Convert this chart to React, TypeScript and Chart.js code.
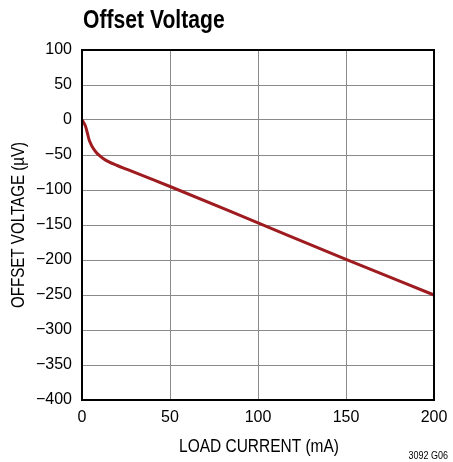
import React, { useEffect, useRef } from "react";
import { Chart, registerables } from "chart.js";

Chart.register(...registerables);

const loadCurrent = [0, 1, 2, 3, 4, 5, 6, 8, 10, 12, 15, 20, 26, 36, 50, 100, 150, 200];
const offsetVoltage = [0, -4, -9, -18, -28, -34, -39, -46, -51, -55, -59.5, -65, -71, -81, -95, -147, -199, -250];
const xTicks = [0, 50, 100, 150, 200];
const yTicks = [100, 50, 0, -50, -100, -150, -200, -250, -300, -350, -400];
const titleText = "Offset Voltage";
const noteText = "3092 G06";
const xTitle = "LOAD CURRENT (mA)";
const yTitle = "OFFSET VOLTAGE (µV)";

const tickFont = { family: "'Liberation Sans', Arial, sans-serif", size: 16 };

const fmt = (v: number) => (v < 0 ? "\u2212" + Math.abs(v) : String(v));

function condensedText(ctx: any, text: string, x: number, y: number, font: string, sx: number, align: string, rot = 0) {
  ctx.save();
  ctx.translate(x, y);
  if (rot) ctx.rotate(rot);
  ctx.scale(sx, 1);
  ctx.font = font;
  ctx.textAlign = align;
  ctx.textBaseline = "alphabetic";
  ctx.fillStyle = "#000";
  ctx.fillText(text, 0, 0);
  ctx.restore();
}

const decorPlugin = {
  id: "decor",
  afterDatasetsDraw(chart: any) {
    const { ctx, chartArea } = chart;
    ctx.save();
    ctx.strokeStyle = "#000";
    ctx.lineWidth = 2;
    ctx.strokeRect(chartArea.left, chartArea.top, chartArea.right - chartArea.left, chartArea.bottom - chartArea.top);
    ctx.restore();
    const fam = "'Liberation Sans', Arial, sans-serif";
    condensedText(ctx, titleText, chartArea.left + 1, 28, "bold 25px " + fam, 0.845, "left");
    condensedText(ctx, xTitle, (chartArea.left + chartArea.right) / 2 + 1, 452, "18px " + fam, 0.86, "center");
    condensedText(ctx, yTitle, 24, (chartArea.top + chartArea.bottom) / 2, "18px " + fam, 0.84, "center", -Math.PI / 2);
    condensedText(ctx, noteText, 448, 459, "10px " + fam, 0.9, "right");
  },
};

export default function App() {
  const ref = useRef<HTMLCanvasElement>(null);
  useEffect(() => {
    if (!ref.current) return;
    const chart = new Chart(ref.current, {
      type: "line",
      data: {
        datasets: [
          {
            data: loadCurrent.map((x, i) => ({ x, y: offsetVoltage[i] })),
            borderColor: "#9e1b20",
            borderWidth: 3,
            pointRadius: 0,
            cubicInterpolationMode: "monotone",
            fill: false,
            clip: false as any,
          },
        ],
      },
      options: {
        animation: false,
        responsive: false,
        events: [],
        layout: { padding: { top: 50, right: 19, left: 0, bottom: 0 } },
        plugins: { legend: { display: false }, tooltip: { enabled: false }, title: { display: false } },
        scales: {
          x: {
            type: "linear",
            min: 0,
            max: 200,
            afterBuildTicks: (s: any) => {
              s.ticks = xTicks.map((v) => ({ value: v }));
            },
            afterFit: (s: any) => {
              s.height = 62;
              s.paddingLeft = 0;
              s.paddingRight = 0;
            },
            ticks: { color: "#000", font: tickFont, padding: 8, maxRotation: 0, callback: (v: any) => fmt(Number(v)) },
            grid: { color: "#8a8a8a", lineWidth: 1, drawTicks: false },
            border: { display: false },
          },
          y: {
            type: "linear",
            min: -400,
            max: 100,
            afterBuildTicks: (s: any) => {
              s.ticks = yTicks.map((v) => ({ value: v }));
            },
            afterFit: (s: any) => {
              s.width = 82;
              s.paddingTop = 0;
              s.paddingBottom = 0;
            },
            ticks: { color: "#000", font: tickFont, padding: 10, callback: (v: any) => fmt(Number(v)) },
            grid: { color: "#8a8a8a", lineWidth: 1, drawTicks: false },
            border: { display: false },
          },
        },
      },
      plugins: [decorPlugin],
    });
    return () => chart.destroy();
  }, []);
  return (
    <canvas
      ref={ref}
      width={453}
      height={462}
      style={{ position: "absolute", left: 0, top: 0, width: 453, height: 462, background: "#fff" }}
    />
  );
}
